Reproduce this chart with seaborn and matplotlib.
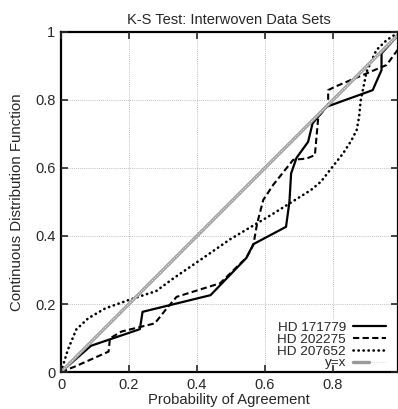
import numpy as np
import matplotlib
matplotlib.use('Agg')
import matplotlib.pyplot as plt
import seaborn as sns
from matplotlib.legend_handler import HandlerTuple

# data
hd171779_x = [0, 0.088, 0.232, 0.240, 0.440, 0.545, 0.566, 0.662, 0.672, 0.677, 0.693, 0.727, 0.740, 0.781, 0.917, 0.943, 0.943, 1.0]
hd171779_y = [0, 0.077, 0.126, 0.177, 0.226, 0.335, 0.376, 0.427, 0.500, 0.584, 0.630, 0.677, 0.731, 0.780, 0.829, 0.888, 0.937, 1.0]

hd202275_x = [0, 0.041, 0.140, 0.144, 0.178, 0.276, 0.311, 0.340, 0.468, 0.546, 0.566, 0.577, 0.595, 0.624, 0.683, 0.723, 0.747, 0.757, 0.786, 0.786, 0.806, 0.958, 0.99]
hd202275_y = [0, 0.016, 0.060, 0.099, 0.119, 0.143, 0.187, 0.221, 0.261, 0.337, 0.374, 0.437, 0.506, 0.550, 0.624, 0.628, 0.638, 0.751, 0.785, 0.829, 0.839, 0.903, 0.947]

hd207652_x = [0, 0.020, 0.045, 0.080, 0.130, 0.200, 0.280, 0.330, 0.409, 0.497, 0.620, 0.735, 0.765, 0.796, 0.830, 0.855, 0.870, 0.877, 0.882, 0.899, 0.928, 0.958, 0.99]
hd207652_y = [0, 0.065, 0.125, 0.158, 0.187, 0.212, 0.238, 0.275, 0.329, 0.390, 0.463, 0.535, 0.560, 0.600, 0.643, 0.682, 0.712, 0.751, 0.800, 0.883, 0.947, 0.976, 0.997]

diag = [0, 1]
grid_pos = [0.2, 0.4, 0.6, 0.8]

sns.set_style('ticks')
plt.rcParams['font.family'] = ['Liberation Sans', 'DejaVu Sans']

fig = plt.figure(figsize=(3.98, 4.09), dpi=100)
ax = fig.add_axes([61 / 398, 1 - 372 / 409, 336.5 / 398, 340 / 409])

sns.lineplot(x=hd171779_x, y=hd171779_y, estimator=None, sort=False, ax=ax,
             color='black', lw=1.6, label='_a')
sns.lineplot(x=hd202275_x, y=hd202275_y, estimator=None, sort=False, ax=ax,
             color='black', lw=1.5, label='_b')
ax.lines[-1].set_dashes((3, 1.6))
sns.lineplot(x=hd207652_x, y=hd207652_y, estimator=None, sort=False, ax=ax,
             color='black', lw=1.9, label='_c')
ax.lines[-1].set_linestyle((0, (0.1, 1.8)))
ax.lines[-1].set_dash_capstyle('round')
sns.lineplot(x=diag, y=diag, estimator=None, sort=False, ax=ax,
             color='#9a9a9a', lw=2.4, label='_d')
sns.lineplot(x=diag, y=diag, estimator=None, sort=False, ax=ax,
             color='#e4e4e4', lw=0.8, label='_e')
ax.lines[-1].set_linestyle((0, (1.2, 0.8)))

lines = list(ax.lines)
handles = [lines[0], lines[1], lines[2], (lines[3], lines[4])]
labels = ['HD 171779', 'HD 202275', 'HD 207652', 'y=x']

# grid drawn underneath everything
for g in grid_pos:
    ax.axvline(g, color='#aaaaaa', linestyle=(0, (1, 1.5)), lw=0.6, zorder=0.5)
    ax.axhline(g, color='#aaaaaa', linestyle=(0, (1, 1.5)), lw=0.6, zorder=0.5)

ax.set_xlim(0, 0.99)
ax.set_ylim(0, 1)
ax.set_xticks([0, 0.2, 0.4, 0.6, 0.8])
ax.set_xticklabels(['0', '0.2', '0.4', '0.6', '0.8'])
ax.set_yticks([0, 0.2, 0.4, 0.6, 0.8, 1])
ax.set_yticklabels(['0', '0.2', '0.4', '0.6', '0.8', '1'])
ax.tick_params(direction='in', length=5, width=1.2, top=True, right=True,
               labelsize=10.5, pad=4)
ax.xaxis.set_zorder(6)
ax.yaxis.set_zorder(6)
for s in ax.spines.values():
    s.set_linewidth(1.6)
    s.set_color('black')
    s.set_zorder(6)

ax.set_title('K-S Test: Interwoven Data Sets', fontsize=10.5, pad=6)
ax.set_xlabel('Probability of Agreement', fontsize=10.6, labelpad=1)
ax.set_ylabel('Continuous Distribution Function', fontsize=10.8, labelpad=8)

leg = ax.legend(handles, labels, loc='lower right', bbox_to_anchor=(0.975, 0.0),
                markerfirst=False,
                fontsize=9.7, frameon=True, framealpha=1, edgecolor='white',
                fancybox=False, labelspacing=-0.05, handlelength=2.5,
                handletextpad=0.5, borderpad=0.15, borderaxespad=0.05,
                handler_map={tuple: HandlerTuple(ndivide=None)})
leg.set_zorder(5)
for t in leg.get_texts():
    t.set_ha('right')

fig.savefig('out.png', dpi=100)
